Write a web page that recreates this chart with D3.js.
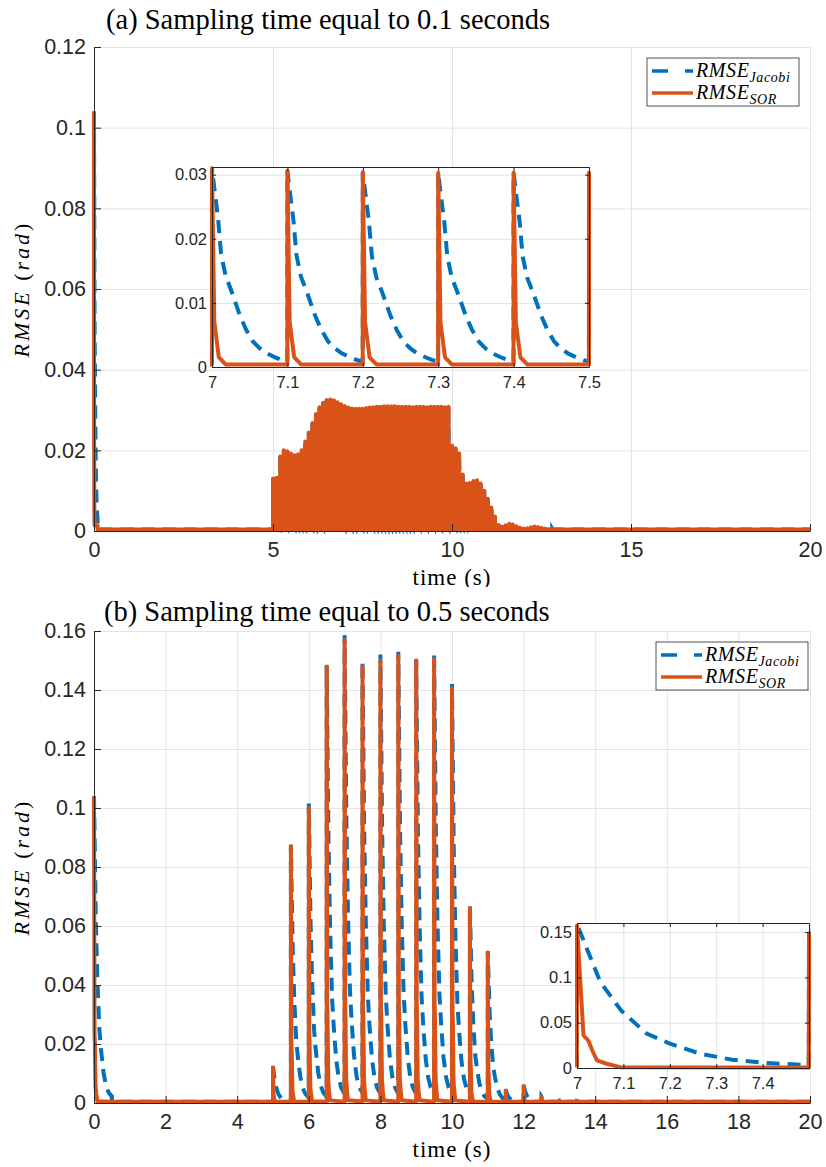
<!DOCTYPE html>
<html lang="en">
<head>
  <meta charset="UTF-8">
  <title>RMSE Jacobi vs SOR</title>
  <script src="https://cdn.jsdelivr.net/npm/d3@7"></script>
  <style>
    body { margin: 0; background: #fff; }
    svg { display: block; }
    .serif { font-family: "Liberation Serif", "Times New Roman", serif; fill: #000; }
  </style>
</head>
<body>
  <div id="chart"></div>

  <script>
    // ---- data ----
    const floorRmse = 0.0004;   // residual level between bursts
    const initialPeak = 0.104;  // error at t = 0 (both methods)

    // (a) sampling time 0.1 s : peak RMSE at each sample from 5.0 s to 13.0 s
    const periodA = 0.1;
    const burstStartA = 5.0;
    const burstPeaksA = [
      0.0130, 0.0132, 0.0185, 0.0200, 0.0198, 0.0192, 0.0188, 0.0190, 0.0200, 0.0222,
      0.0244, 0.0268, 0.0290, 0.0307, 0.0318, 0.0325, 0.0326, 0.0324, 0.0319, 0.0314,
      0.0310, 0.0306, 0.0304, 0.0303, 0.0303, 0.0303, 0.0305, 0.0306, 0.0307, 0.0308,
      0.0308, 0.0309, 0.0309, 0.0309, 0.0309, 0.0308, 0.0308, 0.0308, 0.0308, 0.0307,
      0.0308, 0.0308, 0.0308, 0.0307, 0.0308, 0.0308, 0.0308, 0.0308, 0.0307, 0.0308,
      0.0212, 0.0205, 0.0192, 0.0140, 0.0118, 0.0119, 0.0124, 0.0126, 0.0118, 0.0100,
      0.0080, 0.0058, 0.0036, 0.0015, 0.0011, 0.0014, 0.0018, 0.0016, 0.0012, 0.0008,
      0.0006, 0.0007, 0.0009, 0.0011, 0.0010, 0.0008, 0.0006, 0.0005, 0.0005, 0.0004,
      0.0004
    ];
    // decay inside one sampling period, [fraction of period, fraction of peak] (from inset a)
    const jacobiShapeA = [[0, 1], [0.04, 0.87], [0.08, 0.75], [0.12, 0.57], [0.18, 0.46], [0.26, 0.38],
      [0.37, 0.26], [0.45, 0.19], [0.54, 0.13], [0.63, 0.095], [0.72, 0.07], [0.83, 0.05], [0.94, 0.033], [0.999, 0.03]];
    const sorShapeA = [[0, 1], [0.03, 0.23], [0.09, 0.05], [0.18, 0.013], [0.999, 0.013]];

    // (b) sampling time 0.5 s : peaks at 5.0, 5.5, ... 13.5 s
    const periodB = 0.5;
    const burstStartB = 5.0;
    const jacobiPeaksB = [0.0125, 0.0875, 0.1015, 0.1485, 0.1586, 0.1500, 0.1520, 0.1530, 0.1505,
      0.1525, 0.1420, 0.0670, 0.0515, 0.0045, 0.0060, 0.0022, 0.0010, 0.0006];
    const sorPeaksB = [0.0120, 0.0870, 0.1000, 0.1480, 0.1570, 0.1480, 0.1500, 0.1515, 0.1500,
      0.1505, 0.1405, 0.0660, 0.0510, 0.0042, 0.0058, 0.0021, 0.0009, 0.0005];
    // decay inside one period (from inset b)
    const jacobiShapeB = [[0, 1], [0.04, 0.84], [0.1, 0.6], [0.19, 0.4], [0.3, 0.24], [0.4, 0.17],
      [0.53, 0.1], [0.67, 0.057], [0.81, 0.035], [0.97, 0.023], [0.999, 0.022]];
    const sorShapeB = [[0, 1], [0.028, 0.23], [0.05, 0.19], [0.064, 0.13], [0.086, 0.053],
      [0.128, 0.03], [0.186, 0.006], [0.999, 0.003]];

    // axis ticks
    const xTicksA = [0, 5, 10, 15, 20];
    const yTicksA = [0, 0.02, 0.04, 0.06, 0.08, 0.1, 0.12];
    const xTicksB = [0, 2, 4, 6, 8, 10, 12, 14, 16, 18, 20];
    const yTicksB = [0, 0.02, 0.04, 0.06, 0.08, 0.1, 0.12, 0.14, 0.16];
    const insetXTicksA = [7, 7.1, 7.2, 7.3, 7.4, 7.5];
    const insetYTicksA = [0, 0.01, 0.02, 0.03];
    const insetXTicksB = [7, 7.1, 7.2, 7.3, 7.4];
    const insetYTicksB = [0, 0.05, 0.1, 0.15];

    // ---- build the sawtooth series from the peaks and the decay shapes ----
    function buildSeries(period, burstStart, peaks, shape) {
      const pts = [];
      const n = Math.round(20 / period);
      for (let k = 0; k < n; k++) {
        const t0 = k * period;
        const idx = Math.round((t0 - burstStart) / period);
        let p = floorRmse;
        if (k === 0) p = initialPeak;
        else if (idx >= 0 && idx < peaks.length) p = peaks[idx];
        shape.forEach(([f, v]) => pts.push([t0 + f * period, Math.max(p * v, floorRmse)]));
      }
      return pts;
    }

    const jacA = buildSeries(periodA, burstStartA, burstPeaksA, jacobiShapeA);
    const sorA = buildSeries(periodA, burstStartA, burstPeaksA, sorShapeA);
    const jacB = buildSeries(periodB, burstStartB, jacobiPeaksB, jacobiShapeB);
    const sorB = buildSeries(periodB, burstStartB, sorPeaksB, sorShapeB);

    // ---- drawing ----
    const W = 826, H = 1167;
    const blue = '#0072BD', orange = '#D95319';
    const gridColor = '#e4e4e4', axisColor = '#262626';
    const tickFont = '"Liberation Sans", Arial, sans-serif';
    const fmt = d => d === 0 ? '0' : String(+d.toFixed(3));

    const svg = d3.select('#chart').append('svg')
      .attr('width', W)
      .attr('height', H);

    let clipId = 0;

    function drawAxes(g, x, y, o) {
      const [x0, x1] = x.range();
      const [yb, yt] = y.range();

      // grid
      g.append('g')
        .attr('transform', `translate(0,${yb})`)
        .call(d3.axisBottom(x).tickValues(o.xTicks).tickSize(-(yb - yt)).tickFormat(''))
        .call(s => s.select('.domain').remove())
        .selectAll('line').attr('stroke', gridColor);
      g.append('g')
        .attr('transform', `translate(${x0},0)`)
        .call(d3.axisLeft(y).tickValues(o.yTicks).tickSize(-(x1 - x0)).tickFormat(''))
        .call(s => s.select('.domain').remove())
        .selectAll('line').attr('stroke', gridColor);
    }

    function drawTicks(g, x, y, o) {
      const [x0, x1] = x.range();
      const [yb, yt] = y.range();
      const xa = g.append('g')
        .attr('transform', `translate(0,${yb})`)
        .call(d3.axisBottom(x).tickValues(o.xTicks).tickSizeInner(-o.tick).tickSizeOuter(0)
          .tickPadding(o.xPad).tickFormat(fmt));
      const ya = g.append('g')
        .attr('transform', `translate(${x0},0)`)
        .call(d3.axisLeft(y).tickValues(o.yTicks).tickSizeInner(-o.tick).tickSizeOuter(0)
          .tickPadding(o.yPad).tickFormat(fmt));
      [xa, ya].forEach(a => {
        a.selectAll('.domain').attr('stroke', axisColor);
        a.selectAll('line').attr('stroke', axisColor);
        a.selectAll('text')
          .attr('fill', axisColor)
          .style('font-family', tickFont)
          .style('font-size', o.font + 'px');
      });
      if (o.box) {
        const ta = g.append('g')
          .attr('transform', `translate(0,${yt})`)
          .call(d3.axisTop(x).tickValues(o.xTicks).tickSizeInner(-o.tick).tickSizeOuter(0).tickFormat(''));
        const ra = g.append('g')
          .attr('transform', `translate(${x1},0)`)
          .call(d3.axisRight(y).tickValues(o.yTicks).tickSizeInner(-o.tick).tickSizeOuter(0).tickFormat(''));
        [ta, ra].forEach(a => a.selectAll('path, line').attr('stroke', axisColor));
      }
    }

    function drawLines(g, x, y, jac, sor, pad) {
      const id = 'clip' + (clipId++);
      const [x0, x1] = x.range();
      const [yb, yt] = y.range();
      g.append('clipPath').attr('id', id)
        .append('rect')
          .attr('x', x0 - pad).attr('y', yt - pad)
          .attr('width', x1 - x0 + 2 * pad).attr('height', yb - yt + 2 * pad);
      const line = d3.line().x(d => x(d[0])).y(d => y(d[1]));
      const lg = g.append('g').attr('clip-path', `url(#${id})`);
      lg.append('path')
        .datum(jac)
        .attr('d', line)
        .attr('fill', 'none')
        .attr('stroke', blue)
        .attr('stroke-width', 4)
        .attr('stroke-dasharray', '13,8');
      lg.append('path')
        .datum(sor)
        .attr('d', line)
        .attr('fill', 'none')
        .attr('stroke', orange)
        .attr('stroke-width', 4)
        .attr('stroke-linejoin', 'round');
    }

    function drawLegend(g, bx, by) {
      const w = 152, h = 48;
      g.append('rect')
        .attr('x', bx).attr('y', by).attr('width', w).attr('height', h)
        .attr('fill', '#fff').attr('stroke', axisColor).attr('stroke-width', 0.8);
      const rows = [
        { color: blue, dash: '16,17', sub: 'Jacobi' },
        { color: orange, dash: null, sub: 'SOR' }
      ];
      rows.forEach((r, i) => {
        const cy = by + 13 + i * 22;
        g.append('line')
          .attr('x1', bx + 5).attr('x2', bx + 46)
          .attr('y1', cy).attr('y2', cy)
          .attr('stroke', r.color).attr('stroke-width', 3.5)
          .attr('stroke-dasharray', r.dash);
        const t = g.append('text')
          .attr('class', 'serif')
          .attr('x', bx + 49).attr('y', cy + 6)
          .style('font-size', '20px')
          .style('font-style', 'italic')
          .style('letter-spacing', '0.6px');
        t.append('tspan').text('RMSE');
        t.append('tspan').attr('dy', 5).style('font-size', '14px').text(r.sub);
      });
    }

    function drawPanel(p) {
      const g = svg.append('g');
      if (p.clipBottom) {
        const id = 'clip' + (clipId++);
        g.append('clipPath').attr('id', id)
          .append('rect').attr('x', 0).attr('y', 0).attr('width', W).attr('height', p.clipBottom);
        g.attr('clip-path', `url(#${id})`);
      }
      const x = d3.scaleLinear().domain([0, 20]).range([p.left, p.right]);
      const y = d3.scaleLinear().domain([0, p.yMax]).range([p.bottom, p.top]);

      drawAxes(g, x, y, { xTicks: p.xTicks, yTicks: p.yTicks });
      drawLines(g, x, y, p.jac, p.sor, 4);
      drawTicks(g, x, y, { xTicks: p.xTicks, yTicks: p.yTicks, tick: 7, xPad: 11, yPad: 8, font: 21.5 });
      drawLegend(g, p.legend[0], p.legend[1]);

      // inset zoom window
      const q = p.inset;
      const ix = d3.scaleLinear().domain([7, 7.5]).range([q.left, q.right]);
      const iy = d3.scaleLinear().domain([0, q.yMax]).range([q.bottom, q.top]);
      g.append('rect')
        .attr('x', q.left).attr('y', q.top)
        .attr('width', q.right - q.left).attr('height', q.bottom - q.top)
        .attr('fill', '#fff');
      drawAxes(g, ix, iy, { xTicks: q.xTicks, yTicks: q.yTicks });
      drawLines(g, ix, iy, p.jac.filter(d => d[0] > 6.9 && d[0] < 7.6), p.sor.filter(d => d[0] > 6.9 && d[0] < 7.6), 2);
      drawTicks(g, ix, iy, { xTicks: q.xTicks, yTicks: q.yTicks, tick: 4, xPad: 9, yPad: 5, font: 16.5, box: true });

      // title and axis labels
      g.append('text')
        .attr('class', 'serif')
        .attr('x', p.titleX).attr('y', p.titleY)
        .style('font-size', '28.5px')
        .text(p.title);

      g.append('text')
        .attr('class', 'serif')
        .attr('x', (p.left + p.right) / 2).attr('y', p.bottom + 54)
        .attr('text-anchor', 'middle')
        .style('font-size', '23px')
        .style('letter-spacing', '1px')
        .text('time (s)');

      const yl = g.append('text')
        .attr('class', 'serif')
        .attr('transform', `translate(29,${(p.top + p.bottom) / 2}) rotate(-90)`)
        .attr('text-anchor', 'middle')
        .style('font-size', '22px')
        .style('letter-spacing', '3px');
      yl.append('tspan').style('font-style', 'italic').text('RMSE');
      yl.append('tspan').text(' (');
      yl.append('tspan').style('font-style', 'italic').text('rad');
      yl.append('tspan').text(')');
    }

    drawPanel({
      title: '(a) Sampling time equal to 0.1 seconds', titleX: 106, titleY: 29,
      left: 94, right: 810, top: 47, bottom: 531, yMax: 0.12,
      xTicks: xTicksA, yTicks: yTicksA, jac: jacA, sor: sorA,
      legend: [647, 58], clipBottom: 587,
      inset: { left: 212, right: 589, top: 167, bottom: 367, yMax: 0.0312,
               xTicks: insetXTicksA, yTicks: insetYTicksA }
    });

    drawPanel({
      title: '(b) Sampling time equal to 0.5 seconds', titleX: 104, titleY: 621,
      left: 94, right: 810, top: 631, bottom: 1103, yMax: 0.16,
      xTicks: xTicksB, yTicks: yTicksB, jac: jacB, sor: sorB,
      legend: [656, 642],
      inset: { left: 577, right: 809, top: 923, bottom: 1068, yMax: 0.16,
               xTicks: insetXTicksB, yTicks: insetYTicksB }
    });
  </script>
</body>
</html>
